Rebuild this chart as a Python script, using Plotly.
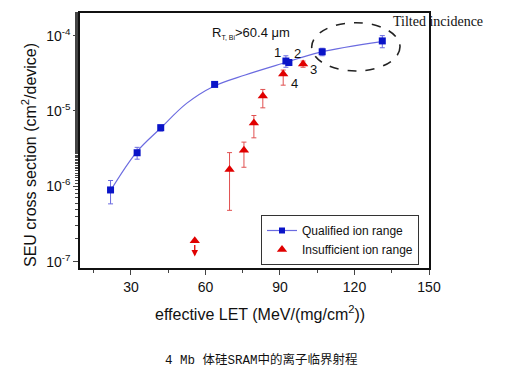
import math
import plotly.graph_objects as go

# Qualified ion range (blue squares)
q_let = [21.8, 32.5, 42.0, 63.7, 92.4, 93.6, 107.0, 131.2]
q_sig = [8.95e-7, 2.79e-6, 6.0e-6, 2.25e-5, 4.6e-5, 4.4e-5, 6.1e-5, 8.5e-5]
q_err_plus = [3.0e-7, 5.0e-7, 5.0e-7, 1.0e-6, 8.0e-6, 4.0e-6, 7.0e-6, 1.5e-5]
q_err_minus = [3.1e-7, 5.0e-7, 6.0e-7, 1.0e-6, 8.0e-6, 4.0e-6, 7.0e-6, 1.6e-5]

# Fit curve
fit_let = [21.8, 32.3, 41.7, 52.4, 63.0, 76.0, 91.3, 106.0, 131.0]
fit_sig = [8.8e-7, 2.85e-6, 5.8e-6, 1.26e-5, 2.1e-5, 3.0e-5, 4.3e-5, 6.0e-5, 8.3e-5]

# Insufficient ion range (red triangles)
i_let = [55.7, 69.7, 75.5, 79.5, 83.1, 91.3, 99.3]
i_sig = [1.9e-7, 1.67e-6, 3.0e-6, 6.9e-6, 1.58e-5, 3.1e-5, 4.2e-5]
i_err_plus = [0.0, 1.13e-6, 0.86e-6, 1.8e-6, 3.5e-6, 3.9e-6, 4.0e-6]
i_err_minus = [0.0, 1.19e-6, 1.21e-6, 2.5e-6, 4.8e-6, 9.0e-6, 4.0e-6]

x_ticks = [30, 60, 90, 120, 150]
y_ticks = [1e-7, 1e-6, 1e-5, 1e-4]
y_labels = ["10<sup>-7</sup>", "10<sup>-6</sup>", "10<sup>-5</sup>", "10<sup>-4</sup>"]

BLUE = "#0a14c8"
LINE = "#6b6be0"
RED = "#e00000"

# page body has an 8px margin; compensate so the plot lands where the reference has it
OFF = 8
W, H = 498, 367
L, R, T, B = 72, 77, 5, 107
pw, ph = W - L - R, H - T - B


def px(x):  # page pixel -> paper x
    return (x - OFF - L) / pw


def py(y):  # page pixel -> paper y
    return 1 - (y - OFF - T) / ph


fig = go.Figure()

fig.add_trace(go.Scatter(
    x=fit_let, y=fit_sig, mode="lines", line=dict(color=LINE, width=1.2, shape="spline"),
    showlegend=False, hoverinfo="skip"))

fig.add_trace(go.Scatter(
    x=q_let, y=q_sig, mode="markers", name="Qualified ion range", showlegend=False,
    marker=dict(symbol="square", size=7, color=BLUE),
    error_y=dict(type="data", array=q_err_plus, arrayminus=q_err_minus, symmetric=False,
                 color=LINE, thickness=1, width=2.5)))
# legend sample for qualified (line + square)
fig.add_trace(go.Scatter(
    x=[None], y=[None], mode="lines+markers", name="Qualified ion range",
    line=dict(color=LINE, width=1.2), marker=dict(symbol="square", size=6, color=BLUE)))

fig.add_trace(go.Scatter(
    x=i_let, y=i_sig, mode="markers", name="Insufficient ion range",
    marker=dict(symbol="triangle-up", size=9, color=RED),
    error_y=dict(type="data", array=i_err_plus, arrayminus=i_err_minus, symmetric=False,
                 color="#e05050", thickness=1, width=2.5)))

# downward arrow on the lowest triangle
fig.add_annotation(x=i_let[0], y=math.log10(1.17e-7), ax=0, ay=-13, axref="pixel", ayref="pixel",
                   showarrow=True, arrowhead=2, arrowsize=1, arrowwidth=1.3, arrowcolor=RED, text="")

# dashed ellipse around tilted-incidence points
fig.add_shape(type="circle", xref="paper", yref="paper", x0=px(311.7), x1=px(400),
              y0=py(71), y1=py(22.7), line=dict(color="#222", width=1.6, dash="dash"))

fig.add_annotation(x=px(391), y=py(22), xref="paper", yref="paper", text="Tilted incidence",
                   showarrow=False, xanchor="left", yanchor="middle",
                   font=dict(family="Liberation Serif, Times New Roman, serif", size=14, color="#111"))

ann_font = dict(family="Liberation Sans, Arial, sans-serif", size=13, color="#111")
fig.add_annotation(x=px(210), y=py(33), xref="paper", yref="paper",
                   text="R<sub><span style='font-size:7px'>T, Bi</span></sub>>60.4 μm",
                   showarrow=False, xanchor="left", yanchor="middle", font=ann_font)
for lab, (lx, ly) in zip(["1", "2", "3", "4"], [(277, 52), (297, 54), (313, 70), (294, 83)]):
    fig.add_annotation(x=px(lx), y=py(ly), xref="paper", yref="paper", text=lab, showarrow=False,
                       xanchor="center", yanchor="middle", font=ann_font)

# axis titles (placed as in the reference)
title_font = dict(family="Liberation Sans, Arial, sans-serif", size=16, color="#111")
fig.add_annotation(x=px(29), y=py(155), xref="paper", yref="paper", textangle=-90,
                   text="SEU cross section (cm<sup>2</sup>/device)", showarrow=False,
                   xanchor="center", yanchor="middle", font=title_font)
fig.add_annotation(x=px(260), y=py(313), xref="paper", yref="paper",
                   text="effective LET (MeV/(mg/cm<sup>2</sup>))", showarrow=False,
                   xanchor="center", yanchor="middle", font=title_font)

fig.add_annotation(x=px(261), y=py(360), xref="paper", yref="paper",
                   text="4 Mb 体硅SRAM中的离子临界射程", showarrow=False,
                   xanchor="center", yanchor="middle",
                   font=dict(family="Liberation Mono, Noto Sans CJK SC, monospace", size=12.5, color="#111"))

fig.update_layout(
    width=W, height=H, margin=dict(l=L, r=R, t=T, b=B),
    paper_bgcolor="white", plot_bgcolor="white",
    font=dict(family="Liberation Sans, Arial, sans-serif", color="#111"),
    showlegend=True,
    legend=dict(x=px(261), y=py(215), xanchor="left", yanchor="top",
                bordercolor="#333", borderwidth=1, bgcolor="white",
                font=dict(size=12), tracegroupgap=0, itemwidth=30),
    xaxis=dict(range=[9.5, 150], tickvals=x_ticks, ticks="outside", ticklen=5, tickwidth=1.3,
               showgrid=False, zeroline=False, showline=True, linecolor="#111", linewidth=1.5,
               mirror=True, tickfont=dict(size=14), automargin=False,
               minor=dict(tickvals=[15, 45, 75, 105, 135], ticks="outside", ticklen=3, tickwidth=1.2)),
    yaxis=dict(type="log", range=[-7.084, -3.70], tickvals=y_ticks, ticktext=y_labels,
               ticks="outside", ticklen=5, tickwidth=1.3, showgrid=False, zeroline=False,
               showline=True, linecolor="#111", linewidth=1.5, mirror=True, tickfont=dict(size=14),
               automargin=False,
               minor=dict(ticks="outside", ticklen=3, tickwidth=1, showgrid=False)),
)

fig.write_html("out.html")
